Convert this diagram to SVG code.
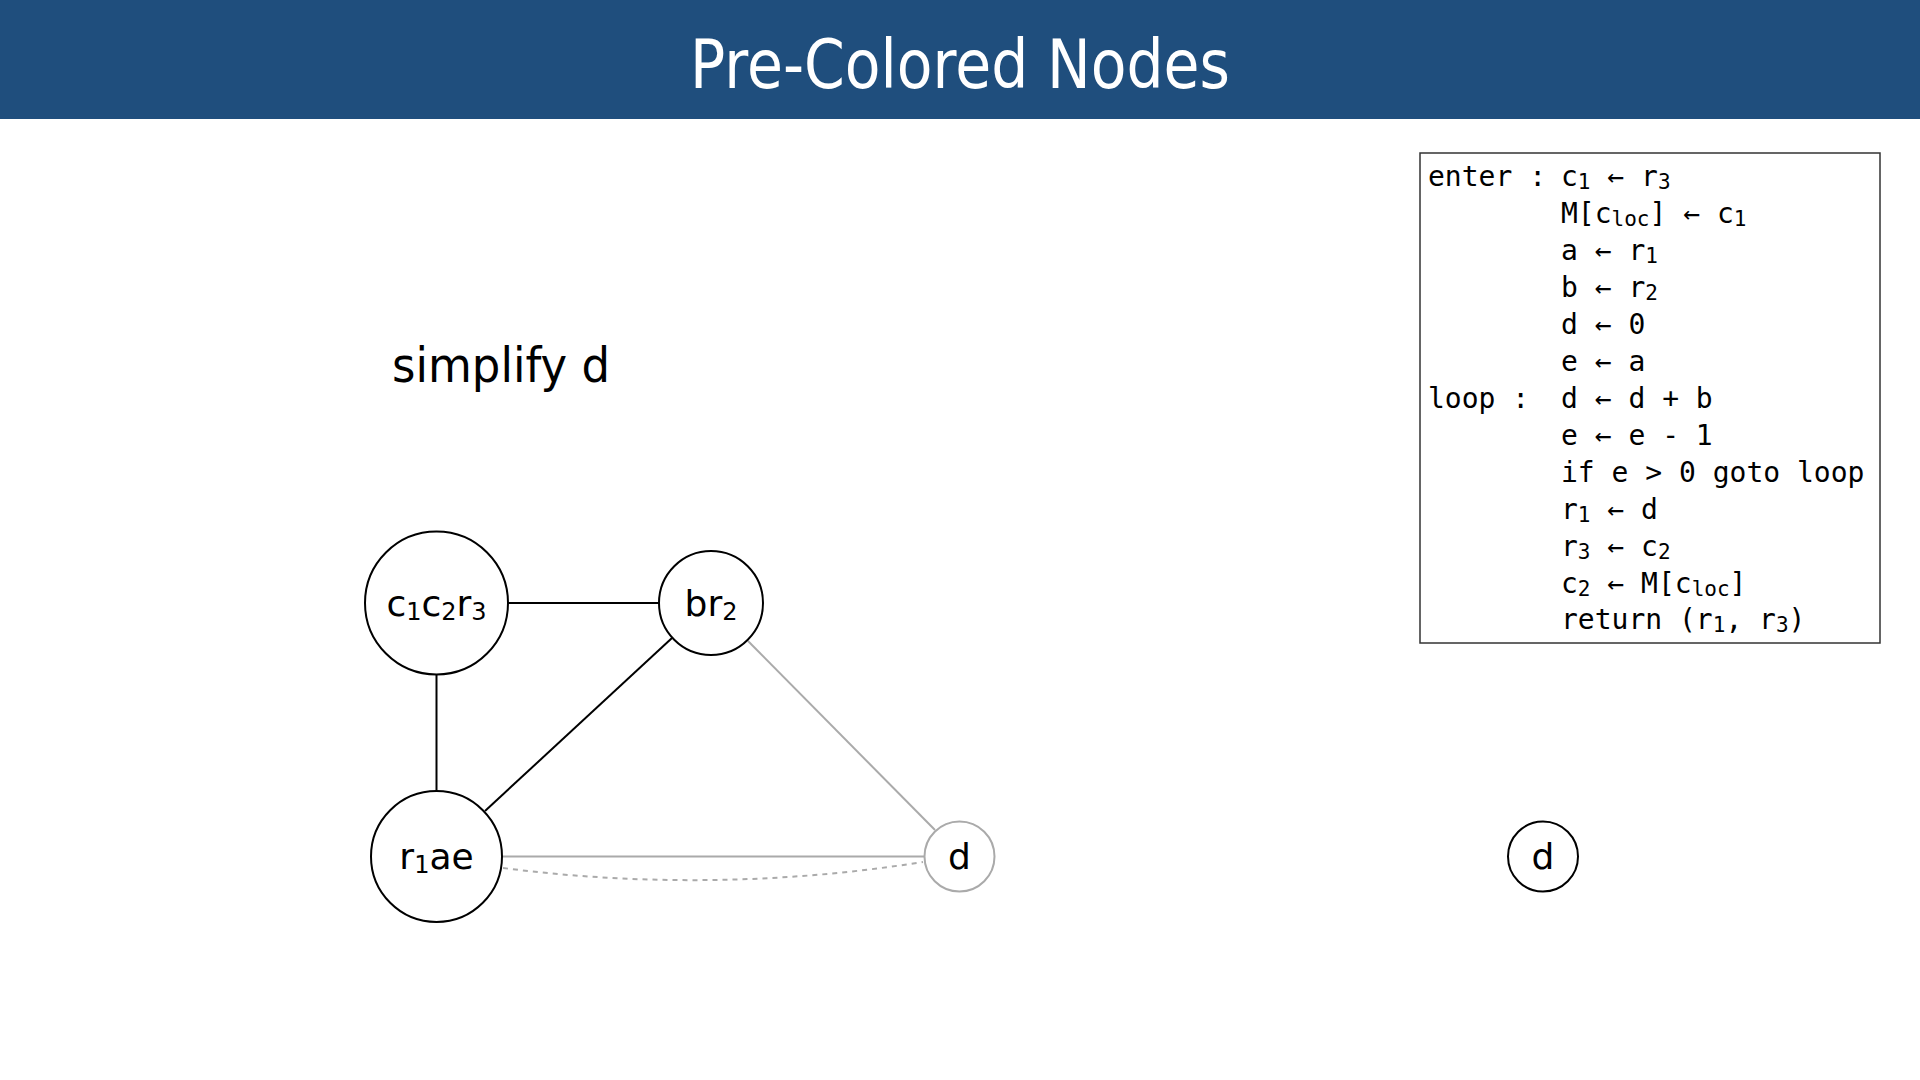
<svg xmlns="http://www.w3.org/2000/svg" width="1920" height="1080" viewBox="0 0 1920 1080">
<style>
.title{font-family:"DejaVu Sans","Liberation Sans",sans-serif;font-size:68px;fill:#fff}
.big{font-family:"DejaVu Sans","Liberation Sans",sans-serif;font-size:48px;fill:#000}
.lbl{font-family:"DejaVu Sans","Liberation Sans",sans-serif;font-size:36px;fill:#000;text-anchor:middle}
.code{font-family:"DejaVu Sans Mono","Liberation Mono",monospace;font-size:28px;fill:#000}
.s{font-size:21px}
.ls{font-size:24px}
.node{fill:#fff;stroke:#000;stroke-width:2}
.grey{fill:#fff;stroke:#aaa;stroke-width:2}
.e{stroke:#000;stroke-width:2;fill:none}
.eg{stroke:#aaa;stroke-width:2;fill:none}
.ed{stroke:#aaa;stroke-width:2;fill:none;stroke-dasharray:5 5}
</style>
<rect width="1920" height="1080" fill="#fff"/>
<rect x="0" y="0" width="1920" height="119" fill="#1F4E7D"/>
<text class="title" x="960" y="88" text-anchor="middle" textLength="540" lengthAdjust="spacingAndGlyphs">Pre-Colored Nodes</text>
<text class="big" x="392" y="382" textLength="218" lengthAdjust="spacingAndGlyphs">simplify d</text>

<g id="connectors">
<line class="e" x1="507" y1="603" x2="659" y2="603"/>
<line class="e" x1="436.5" y1="674" x2="436.5" y2="791"/>
<line class="e" x1="672" y1="638" x2="485" y2="811"/>
<line class="eg" x1="748" y1="641" x2="935" y2="830"/>
<line class="eg" x1="502" y1="856.5" x2="925" y2="856.5"/>
<path class="ed" d="M503 868 Q713 895 923 862"/>
</g>

<g id="node-c1c2r3">
<circle class="node" cx="436.5" cy="603" r="71.5"/>
<text class="lbl" x="436.5" y="616">c<tspan class="ls" dy="4">1</tspan><tspan dy="-4">c</tspan><tspan class="ls" dy="4">2</tspan><tspan dy="-4">r</tspan><tspan class="ls" dy="4">3</tspan></text>
</g>
<g id="node-br2">
<circle class="node" cx="711" cy="603" r="52"/>
<text class="lbl" x="711" y="616">br<tspan class="ls" dy="4">2</tspan></text>
</g>
<g id="node-r1ae">
<circle class="node" cx="436.5" cy="856.5" r="65.5"/>
<text class="lbl" x="436.5" y="869">r<tspan class="ls" dy="4">1</tspan><tspan dy="-4">ae</tspan></text>
</g>
<g id="node-d-grey">
<circle class="grey" cx="959.5" cy="856.5" r="35"/>
<text class="lbl" x="959.5" y="869">d</text>
</g>
<g id="node-d">
<circle class="node" cx="1543" cy="856.5" r="35"/>
<text class="lbl" x="1543" y="869">d</text>
</g>

<g id="code">
<rect x="1420" y="153" width="460" height="490" fill="#fff" stroke="#333" stroke-width="1.5"/>
<text class="code" x="1428" y="186">enter :</text>
<text class="code" x="1428" y="407.7">loop :</text>
<text class="code" x="1561" y="186">c<tspan class="s" dy="3">1</tspan><tspan dy="-3"> ← r</tspan><tspan class="s" dy="3">3</tspan></text>
<text class="code" x="1561" y="223">M[c<tspan class="s" dy="3">loc</tspan><tspan dy="-3">] ← c</tspan><tspan class="s" dy="3">1</tspan></text>
<text class="code" x="1561" y="260">a ← r<tspan class="s" dy="3">1</tspan></text>
<text class="code" x="1561" y="297">b ← r<tspan class="s" dy="3">2</tspan></text>
<text class="code" x="1561" y="334">d ← 0</text>
<text class="code" x="1561" y="371">e ← a</text>
<text class="code" x="1561" y="407.7">d ← d + b</text>
<text class="code" x="1561" y="444.7">e ← e - 1</text>
<text class="code" x="1561" y="481.6">if e &gt; 0 goto loop</text>
<text class="code" x="1561" y="518.6">r<tspan class="s" dy="3">1</tspan><tspan dy="-3"> ← d</tspan></text>
<text class="code" x="1561" y="555.5">r<tspan class="s" dy="3">3</tspan><tspan dy="-3"> ← c</tspan><tspan class="s" dy="3">2</tspan></text>
<text class="code" x="1561" y="592.5">c<tspan class="s" dy="3">2</tspan><tspan dy="-3"> ← M[c</tspan><tspan class="s" dy="3">loc</tspan><tspan dy="-3">]</tspan></text>
<text class="code" x="1561" y="629.4">return (r<tspan class="s" dy="3">1</tspan><tspan dy="-3">, r</tspan><tspan class="s" dy="3">3</tspan><tspan dy="-3">)</tspan></text>
</g>
</svg>
